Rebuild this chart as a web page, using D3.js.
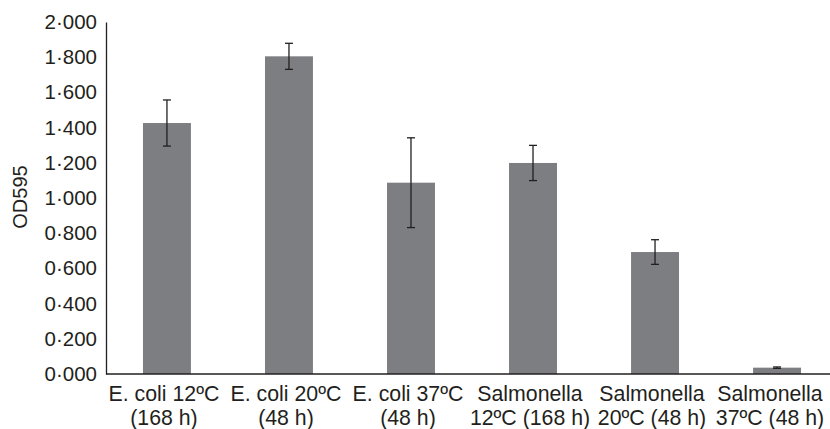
<!DOCTYPE html>
<html>
<head>
<meta charset="utf-8">
<script src="https://cdn.jsdelivr.net/npm/d3@7"></script>
<style>
  body { margin: 0; background: #fff; }
  text { font-family: "Liberation Sans", Arial, sans-serif; fill: #231f20; }
</style>
</head>
<body>
<script>
let w = 830;
let h = 429;

// chart values
const line1 = ["E. coli 12ºC", "E. coli 20ºC", "E. coli 37ºC", "Salmonella", "Salmonella", "Salmonella"];
const line2 = ["(168 h)", "(48 h)", "(48 h)", "12ºC (168 h)", "20ºC (48 h)", "37ºC (48 h)"];
const means = [1.426, 1.805, 1.087, 1.199, 0.693, 0.036];
const errs = [0.131, 0.074, 0.255, 0.100, 0.070, 0.004];
const yTicks = [0, 0.2, 0.4, 0.6, 0.8, 1.0, 1.2, 1.4, 1.6, 1.8, 2.0];

let padLeft = 106;
let padTop = 22;
let baseY = 374;

let svg = d3.select("body")
            .append("svg")
            .attr("width", w)
            .attr("height", h);

let xScale = d3.scaleBand(d3.range(means.length), [padLeft, padLeft + 732])
               .paddingInner(0.607)
               .paddingOuter(0.303);
let yScale = d3.scaleLinear([0, 2], [baseY, padTop]);

const fmt = (d) => d3.format(".3f")(d).replace(".", "·");

// bars
svg.selectAll("rect.bar")
   .data(means)
   .enter()
   .append("rect")
   .attr("class", "bar")
   .attr("x", (d, i) => xScale(i))
   .attr("y", d => yScale(d))
   .attr("width", xScale.bandwidth())
   .attr("height", d => baseY - yScale(d))
   .attr("fill", "#7d7e82");

// error bars
let eb = svg.selectAll("g.err")
            .data(means)
            .enter()
            .append("g")
            .attr("class", "err")
            .attr("stroke", "#231f20")
            .attr("stroke-width", 1.3);
const cx = (i) => xScale(i) + xScale.bandwidth() / 2;
eb.append("line")
  .attr("x1", (d, i) => cx(i)).attr("x2", (d, i) => cx(i))
  .attr("y1", (d, i) => yScale(d + errs[i])).attr("y2", (d, i) => yScale(d - errs[i]));
eb.append("line")
  .attr("x1", (d, i) => cx(i) - 4).attr("x2", (d, i) => cx(i) + 4)
  .attr("y1", (d, i) => yScale(d + errs[i])).attr("y2", (d, i) => yScale(d + errs[i]));
eb.append("line")
  .attr("x1", (d, i) => cx(i) - 4).attr("x2", (d, i) => cx(i) + 4)
  .attr("y1", (d, i) => yScale(d - errs[i])).attr("y2", (d, i) => yScale(d - errs[i]));

// y axis
let yAxis = d3.axisLeft(yScale)
              .tickValues(yTicks)
              .tickFormat(fmt)
              .tickSize(0)
              .tickPadding(9);
let gy = svg.append("g")
            .attr("id", "y-axis")
            .attr("transform", `translate(${padLeft},0)`)
            .call(yAxis);
gy.select(".domain").attr("stroke", "#231f20").attr("stroke-width", 1.3);
gy.selectAll("text").attr("font-size", 20.5).attr("fill", "#231f20")
  .attr("font-family", "'Liberation Sans', Arial, sans-serif");

// x axis line
svg.append("line")
   .attr("x1", padLeft).attr("x2", w)
   .attr("y1", baseY).attr("y2", baseY)
   .attr("stroke", "#231f20")
   .attr("stroke-width", 1.3);

// x labels (centred a touch left of the bars, like the original)
let xl = svg.selectAll("text.xlab")
            .data(line1)
            .enter()
            .append("text")
            .attr("class", "xlab")
            .attr("text-anchor", "middle")
            .attr("font-size", 21.3);
xl.append("tspan").attr("x", (d, i) => Math.min(cx(i) - 3, 770)).attr("y", 401).text(d => d);
xl.append("tspan").attr("x", (d, i) => Math.min(cx(i) - 3, 770)).attr("y", 425).text((d, i) => line2[i]);

// y title
svg.append("text")
   .attr("transform", "translate(27,197) rotate(-90)")
   .attr("text-anchor", "middle")
   .attr("font-size", 20)
   .text("OD595");
</script>
</body>
</html>
